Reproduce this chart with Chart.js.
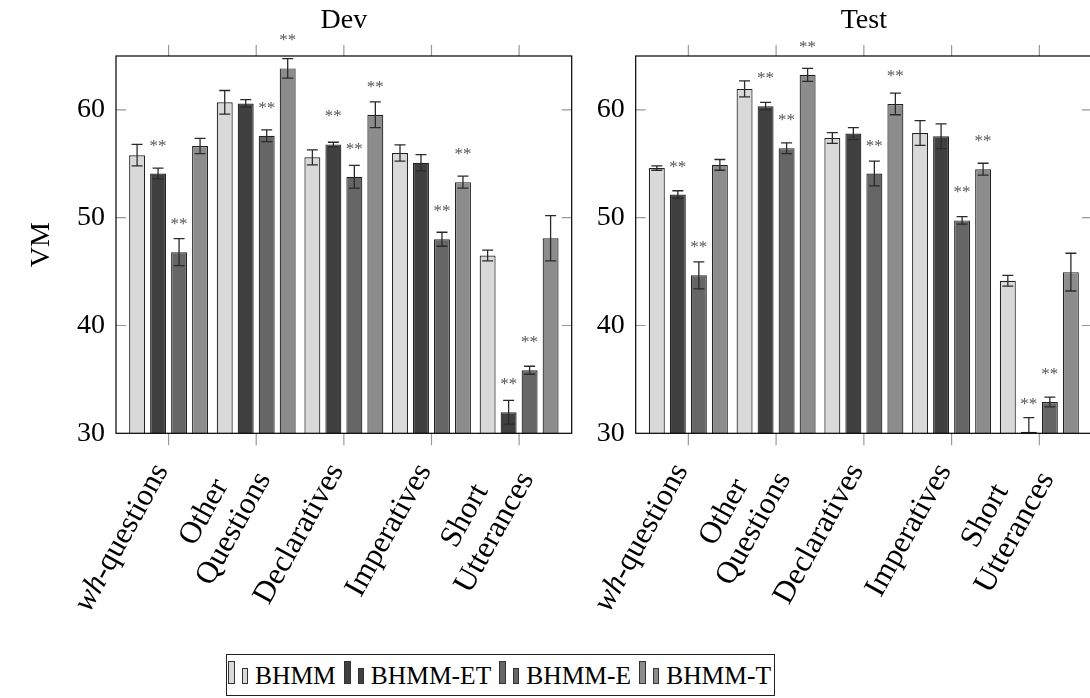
<!DOCTYPE html>
<html>
<head>
<meta charset="utf-8">
<script src="https://cdn.jsdelivr.net/npm/chart.js@4.4.1/dist/chart.umd.min.js"></script>
<style>
  html, body { margin: 0; padding: 0; background: #fff; overflow: hidden; }
  #wrap { position: relative; width: 1090px; height: 698px; overflow: hidden; }
  #wrap canvas { position: absolute; top: 0; }
  #dev { left: 0; }
  #test { left: 580px; }
  #legend {
    position: absolute; left: 226px; top: 654px; width: 549px; height: 42px;
    box-sizing: border-box; border: 1.3px solid #222;
    display: flex; align-items: center; justify-content: space-between;
    padding: 0 3px 0 1px;
    font: 25.5px 'Liberation Serif', serif; color: #000; white-space: nowrap;
  }
  .sw { display: inline-block; position: relative; width: 27px; height: 24px; }
  .sw i { position: absolute; bottom: 0; box-sizing: border-box; border: 1px solid #333; }
  .sw i.a { left: 0; width: 7px; height: 23px; }
  .sw i.b { left: 14px; width: 6px; height: 16px; }
</style>
</head>
<body>
<div id="wrap">
  <canvas id="dev" width="600" height="650"></canvas>
  <canvas id="test" width="520" height="650"></canvas>
  <div id="legend"></div>
</div>
<script>
// categories and series
var categories = ['wh-questions', ['Other', 'Questions'], 'Declaratives', 'Imperatives', ['Short', 'Utterances']];
var seriesNames = ['BHMM', 'BHMM-ET', 'BHMM-E', 'BHMM-T'];
var seriesColors = ['#d9d9d9', '#404040', '#666666', '#8c8c8c'];
var yTicks = [30, 40, 50, 60];

// Dev values (VM) and error bars
var devBHMM = [55.8, 60.7, 55.6, 56.0, 46.5];
var devBHMMErr = [1.0, 1.1, 0.7, 0.75, 0.5];
var devET = [54.1, 60.6, 56.8, 55.1, 31.95];
var devETErr = [0.5, 0.35, 0.2, 0.75, 1.1];
var devE = [46.8, 57.6, 53.8, 48.0, 35.85];
var devEErr = [1.25, 0.55, 1.05, 0.65, 0.37];
var devT = [56.65, 63.85, 59.55, 53.3, 48.1];
var devTErr = [0.7, 0.9, 1.2, 0.55, 2.1];
// significance marks (**)
var devBHMMSig = [0, 0, 0, 0, 0];
var devETSig = [1, 0, 1, 0, 1];
var devESig = [1, 1, 1, 1, 1];
var devTSig = [0, 1, 1, 1, 0];

// Test values (VM) and error bars
var testBHMM = [54.6, 61.95, 57.4, 57.85, 44.15];
var testBHMMErr = [0.2, 0.75, 0.5, 1.15, 0.5];
var testET = [52.15, 60.35, 57.8, 57.55, 30.15];
var testETErr = [0.35, 0.35, 0.55, 1.15, 1.3];
var testE = [44.65, 56.45, 54.1, 49.75, 32.9];
var testEErr = [1.25, 0.5, 1.15, 0.35, 0.45];
var testT = [54.9, 63.25, 60.55, 54.5, 44.95];
var testTErr = [0.5, 0.6, 1.0, 0.55, 1.75];
var testBHMMSig = [0, 0, 0, 0, 0];
var testETSig = [1, 1, 0, 0, 1];
var testESig = [1, 1, 1, 1, 1];
var testTSig = [0, 1, 1, 1, 0];

Chart.defaults.font.family = "'Liberation Serif', serif";
Chart.defaults.font.size = 28;
Chart.defaults.color = '#000';

var CANVAS_H = 650;
var PLOT_BOTTOM = 433.3;
var LABEL_FONT = "31px 'Liberation Serif', serif";
var LABEL_FONT_IT = "italic 31px 'Liberation Serif', serif";

// one label line, "wh" set in italics
function lineParts(line) {
  if (line.indexOf('wh-') === 0) return [[line.slice(0, 2), true], [line.slice(2), false]];
  return [[line, false]];
}
function lineWidth(ctx, line) {
  return lineParts(line).reduce(function(w, p) {
    ctx.font = p[1] ? LABEL_FONT_IT : LABEL_FONT;
    return w + ctx.measureText(p[0]).width;
  }, 0);
}
function drawLine(ctx, line, x0, y0) {
  lineParts(line).forEach(function(p) {
    ctx.font = p[1] ? LABEL_FONT_IT : LABEL_FONT;
    ctx.fillText(p[0], x0, y0);
    x0 += ctx.measureText(p[0]).width;
  });
}

// error bars, ** marks, frame, ticks and rotated category labels
var panelDecor = {
  id: 'panelDecor',
  afterDatasetsDraw: function(chart) {
    var ctx = chart.ctx, a = chart.chartArea;
    var x = chart.scales.x, y = chart.scales.y;
    ctx.save();
    ctx.beginPath();
    ctx.rect(a.left, a.top, a.right - a.left, a.bottom - a.top);
    ctx.clip();
    ctx.strokeStyle = '#2a2a2a';
    ctx.lineWidth = 1.3;
    chart.data.datasets.forEach(function(ds, i) {
      chart.getDatasetMeta(i).data.forEach(function(bar, j) {
        var v = ds.data[j], e = ds.errors[j];
        var y1 = y.getPixelForValue(v + e), y2 = y.getPixelForValue(v - e);
        ctx.beginPath();
        ctx.moveTo(bar.x, y1); ctx.lineTo(bar.x, y2);
        ctx.moveTo(bar.x - 5.5, y1); ctx.lineTo(bar.x + 5.5, y1);
        ctx.moveTo(bar.x - 5.5, y2); ctx.lineTo(bar.x + 5.5, y2);
        ctx.stroke();
      });
    });
    ctx.restore();

    // ** marks
    ctx.save();
    ctx.fillStyle = '#555';
    ctx.font = "17px 'Liberation Serif', serif";
    ctx.textAlign = 'center';
    ctx.textBaseline = 'alphabetic';
    chart.data.datasets.forEach(function(ds, i) {
      chart.getDatasetMeta(i).data.forEach(function(bar, j) {
        if (!ds.sig[j]) return;
        var py = y.getPixelForValue(ds.data[j]) - 31;
        ctx.fillText('**', bar.x, py + 8);
      });
    });
    ctx.restore();

    // ticks
    ctx.save();
    ctx.strokeStyle = '#999';
    ctx.lineWidth = 1.2;
    ctx.beginPath();
    x.ticks.forEach(function(t, i) {
      var px = x.getPixelForTick(i);
      ctx.moveTo(px, a.top - 11); ctx.lineTo(px, a.top);
      ctx.moveTo(px, a.bottom); ctx.lineTo(px, a.bottom + 12);
    });
    y.ticks.forEach(function(t) {
      if (t.value <= y.min) return;
      var py = y.getPixelForValue(t.value);
      ctx.moveTo(a.left, py); ctx.lineTo(a.left + 10, py);
      ctx.moveTo(a.right - 10, py); ctx.lineTo(a.right, py);
    });
    ctx.stroke();
    // frame
    ctx.strokeStyle = '#000';
    ctx.lineWidth = 1.2;
    ctx.strokeRect(a.left, a.top, a.right - a.left, a.bottom - a.top);
    ctx.restore();

    // rotated category labels, lines centred, block ending at the tick
    ctx.save();
    ctx.fillStyle = '#000';
    ctx.textAlign = 'left';
    ctx.textBaseline = 'middle';
    var ang = -61 * Math.PI / 180, lh = 34;
    x.ticks.forEach(function(t, i) {
      var lines = [].concat(categories[i]);
      var widths = lines.map(function(l) { return lineWidth(ctx, l); });
      var maxW = Math.max.apply(null, widths);
      ctx.save();
      ctx.translate(x.getPixelForTick(i) - 7, a.bottom + 33);
      ctx.rotate(ang);
      lines.forEach(function(l, k) {
        var cy = (k - (lines.length - 1) / 2) * lh;
        drawLine(ctx, l, -maxW / 2 - widths[k] / 2, cy);
      });
      ctx.restore();
    });
    ctx.restore();
  }
};

function makeChart(id, title, values, errors, sigs, showYTitle, yWidth, padRight) {
  var ctx = document.getElementById(id).getContext('2d');
  var datasets = seriesNames.map(function(name, i) {
    return {
      label: name,
      data: values[i],
      errors: errors[i],
      sig: sigs[i],
      backgroundColor: seriesColors[i],
      borderColor: '#222',
      borderWidth: 1.2
    };
  });
  return new Chart(ctx, {
    type: 'bar',
    data: { labels: categories, datasets: datasets },
    options: {
      responsive: false,
      animation: false,
      layout: { padding: { left: 0, right: padRight, top: 0, bottom: 0 } },
      datasets: { bar: { categoryPercentage: 0.958, barPercentage: 0.76 } },
      plugins: {
        legend: { display: false },
        tooltip: { enabled: false },
        title: {
          display: true, text: title, fullSize: false, color: '#000',
          font: { size: 28, weight: 'normal' },
          padding: { top: 4, bottom: 18.4 }
        }
      },
      scales: {
        x: {
          grid: { display: false, drawTicks: false },
          border: { display: false },
          ticks: { display: false, autoSkip: false },
          afterBuildTicks: function(s) { s._startValue = -0.6; s._valueRange = 5.2; },
          afterFit: function(s) {
            s.height = CANVAS_H - PLOT_BOTTOM;
            s.paddingLeft = 0; s.paddingRight = 0; s.paddingTop = 0; s.paddingBottom = 0;
          }
        },
        y: {
          min: 30, max: 65,
          grid: { display: false, drawTicks: false },
          border: { display: false },
          ticks: { padding: 11, color: '#000', font: { size: 28 } },
          afterBuildTicks: function(s) { s.ticks = yTicks.map(function(v) { return { value: v }; }); },
          title: { display: showYTitle, text: 'VM', color: '#000', font: { size: 28 }, padding: { top: 25, bottom: 0 } },
          afterFit: function(s) { s.width = yWidth; s.paddingTop = 0; s.paddingBottom = 0; }
        }
      }
    },
    plugins: [panelDecor]
  });
}

makeChart('dev', 'Dev',
  [devBHMM, devET, devE, devT],
  [devBHMMErr, devETErr, devEErr, devTErr],
  [devBHMMSig, devETSig, devESig, devTSig],
  true, 116, 28.3);

makeChart('test', 'Test',
  [testBHMM, testET, testE, testT],
  [testBHMMErr, testETErr, testEErr, testTErr],
  [testBHMMSig, testETSig, testESig, testTSig],
  false, 55.7, 8);

// legend
var legend = document.getElementById('legend');
seriesNames.forEach(function(name, i) {
  var item = document.createElement('span');
  item.innerHTML = '<span class="sw"><i class="a" style="background:' + seriesColors[i] + '"></i>' +
    '<i class="b" style="background:' + seriesColors[i] + '"></i></span>' + name;
  legend.appendChild(item);
});
</script>
</body>
</html>
